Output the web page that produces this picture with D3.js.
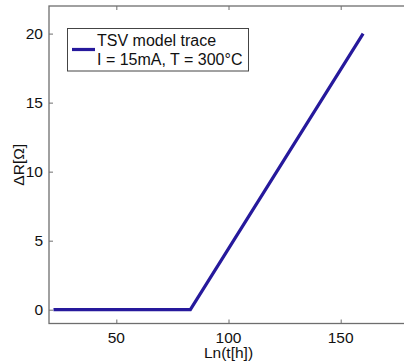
<!DOCTYPE html>
<html>
<head>
<meta charset="utf-8">
<script src="https://cdn.jsdelivr.net/npm/d3@7"></script>
<style>
  body { margin: 0; background: #fff; overflow: hidden; }
  svg { font-family: "Liberation Sans", Arial, sans-serif; }
</style>
</head>
<body>
<div id="chart"></div>
<script>
// data
let lnTime = [22, 83, 160];
let deltaR = [0, 0, 20];
let xTicks = [50, 100, 150];
let yTicks = [0, 5, 10, 15, 20];
let legendLines = ["TSV model trace", "I = 15mA, T = 300\u00B0C"];

let w = 404, h = 362;
let padLeft = 49, padTop = 6, padBottom = 323.5;
let padRight = 408;

const svg = d3.select("#chart")
    .append("svg")
    .attr("width", w)
    .attr("height", h);

let xScale = d3.scaleLinear().domain([20, 180]).range([padLeft, padRight]);
let yScale = d3.scaleLinear().domain([-1, 22]).range([padBottom, padTop]);

let axisColor = "#6e6e6e";

// box
svg.append("rect")
    .attr("x", padLeft).attr("y", padTop)
    .attr("width", padRight - padLeft).attr("height", padBottom - padTop)
    .attr("fill", "none")
    .attr("stroke", axisColor)
    .attr("stroke-width", 1.3);

// ticks inward
const xAxis = d3.axisTop(xScale).tickValues(xTicks).tickSize(4).tickFormat("");
svg.append("g").attr("transform", "translate(0," + padBottom + ")").call(xAxis);
const xAxisTop = d3.axisBottom(xScale).tickValues(xTicks).tickSize(4).tickFormat("");
svg.append("g").attr("transform", "translate(0," + padTop + ")").call(xAxisTop);
const yAxis = d3.axisRight(yScale).tickValues(yTicks).tickSize(4).tickFormat("");
svg.append("g").attr("transform", "translate(" + padLeft + ",0)").call(yAxis);
svg.selectAll("g .domain").remove();
svg.selectAll("g .tick line").attr("stroke", axisColor);

// tick labels
svg.selectAll(".xlab")
    .data(xTicks)
    .enter()
    .append("text")
    .attr("x", d => xScale(d))
    .attr("y", padBottom + 19)
    .attr("text-anchor", "middle")
    .attr("font-size", 15.5)
    .attr("fill", "#111")
    .text(d => d);

svg.selectAll(".ylab")
    .data(yTicks)
    .enter()
    .append("text")
    .attr("x", padLeft - 6)
    .attr("y", d => yScale(d) + 5.5)
    .attr("text-anchor", "end")
    .attr("font-size", 15.5)
    .attr("fill", "#111")
    .text(d => d);

// axis titles
svg.append("text")
    .attr("x", xScale(100))
    .attr("y", 358)
    .attr("text-anchor", "middle")
    .attr("font-size", 15.5)
    .attr("fill", "#111")
    .text("Ln(t[h])");

svg.append("text")
    .attr("transform", "translate(24," + yScale(10.5) + ") rotate(-90)")
    .attr("text-anchor", "middle")
    .attr("font-size", 15.5)
    .attr("fill", "#111")
    .text("\u0394R[\u03A9]");

// trace
let pts = lnTime.map((x, i) => [x, deltaR[i]]);
const line = d3.line().x(d => xScale(d[0])).y(d => yScale(d[1]));
svg.append("path")
    .datum(pts)
    .attr("d", line)
    .attr("fill", "none")
    .attr("stroke", "#26199c")
    .attr("stroke-width", 3.2)
    .attr("stroke-linejoin", "miter");

// legend
const legend = svg.append("g").attr("id", "legend");
legend.append("rect")
    .attr("x", 67.5).attr("y", 28.5)
    .attr("width", 181).attr("height", 42.5)
    .attr("fill", "#fff")
    .attr("stroke", "#444")
    .attr("stroke-width", 1);
legend.append("line")
    .attr("x1", 72).attr("x2", 95)
    .attr("y1", 49.5).attr("y2", 49.5)
    .attr("stroke", "#26199c")
    .attr("stroke-width", 3.2);
legend.selectAll(".lt")
    .data(legendLines)
    .enter()
    .append("text")
    .attr("x", 97)
    .attr("y", (d, i) => 46 + i * 19)
    .attr("font-size", 16)
    .attr("fill", "#111")
    .text(d => d);
</script>
</body>
</html>
